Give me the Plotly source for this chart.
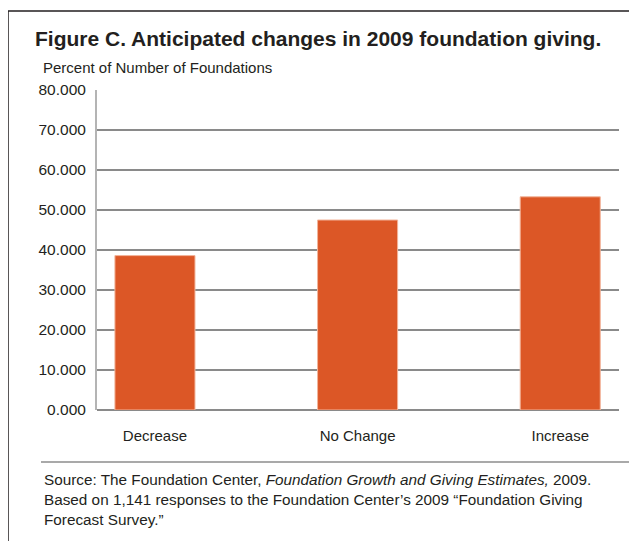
import plotly.graph_objects as go

categories = ["Decrease", "No Change", "Increase"]
values = [38.6, 47.5, 53.3]
y_ticks = [0, 10, 20, 30, 40, 50, 60, 70, 80]

title_text = "Figure C. Anticipated changes in 2009 foundation giving."
subtitle_text = "Percent of Number of Foundations"
source_lines = [
    "Source: The Foundation Center, <i>Foundation Growth and Giving Estimates,</i> 2009.",
    "Based on 1,141 responses to the Foundation Center\u2019s 2009 \u201cFoundation Giving",
    "Forecast Survey.\u201d",
]

FONT = "Liberation Sans, Arial, sans-serif"
TXT = "#231f20"

# page renders with an 8px body offset; layout pixel targets below are in figure coords
OFF = 8
L, T = 97 - OFF, 90 - OFF
PW, PH = 522, 320
R = 637 - L - PW
B = 541 - T - PH

def px(x):
    return (x - OFF - L) / PW

def py(y):
    return (T + PH - (y - OFF)) / PH

fig = go.Figure()
fig.add_trace(go.Bar(
    x=list(range(len(categories))),
    y=values,
    width=0.395,
    marker=dict(color="#dc5726", line=dict(color="#f2b49a", width=1)),
    hoverinfo="skip",
))

fig.update_layout(
    width=637, height=541,
    margin=dict(l=L, r=R, t=T, b=B),
    paper_bgcolor="white", plot_bgcolor="white",
    showlegend=False,
    font=dict(family=FONT, color=TXT, size=15),
    xaxis=dict(
        range=[-0.286, 2.29],
        tickmode="array",
        tickvals=list(range(len(categories))),
        ticktext=categories,
        showgrid=False, zeroline=False,
        showline=False,
        ticks="", ticklen=0,
        ticklabelstandoff=15,
        tickfont=dict(size=15, family=FONT, color=TXT),
    ),
    yaxis=dict(
        range=[0, 80],
        tickmode="array",
        tickvals=y_ticks,
        tickformat=".3f",
        showgrid=True, gridcolor="#8a8a8a", gridwidth=1.5,
        zeroline=True, zerolinecolor="#8a8a8a", zerolinewidth=1.5,
        showline=True, linecolor="#b4b4b4", linewidth=2,
        ticks="", ticklen=0,
        ticklabelstandoff=6,
        tickfont=dict(size=15.5, family=FONT, color=TXT),
    ),
)

texts = [
    ("<b>" + title_text + "</b>", 33, 39, 21),
    (subtitle_text, 41, 68, 15),
]
for i, line in enumerate(source_lines):
    texts.append((line, 42, 479 + i * 20, 15.3))

fig.update_layout(annotations=[
    dict(text=t, font=dict(size=s, family=FONT, color=TXT), showarrow=False,
         xref="paper", yref="paper", x=px(x), y=py(y),
         xanchor="left", yanchor="middle", align="left")
    for (t, x, y, s) in texts
])

fig.update_layout(shapes=[
    dict(type="rect", xref="paper", yref="paper",
         x0=px(8), x1=px(660), y0=py(580), y1=py(11),
         line=dict(color="#231f20", width=1.5)),
    dict(type="line", xref="paper", yref="paper",
         x0=px(41), x1=px(660), y0=py(462), y1=py(462),
         line=dict(color="#555555", width=1.2)),
])

fig.write_html("out.html")
